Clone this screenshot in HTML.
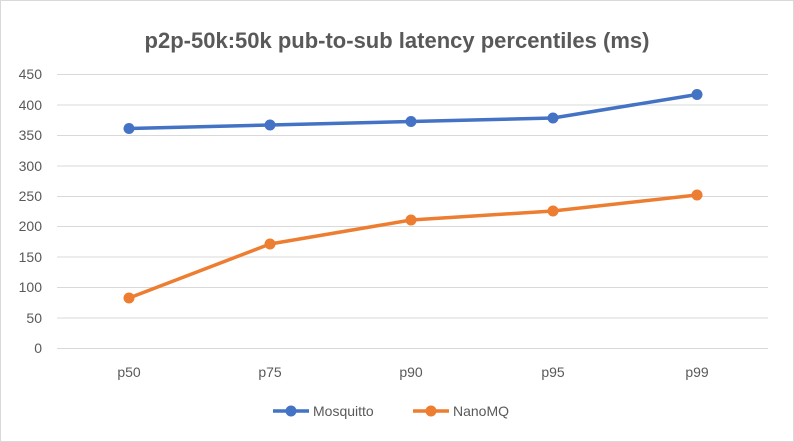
<!DOCTYPE html>
<html><head><style>
body{margin:0;background:#fff;}
.c{width:794px;height:442px;position:relative;box-sizing:border-box;border:1px solid #d9d9d9;background:#fff;}
</style></head><body>
<div class="c">
<svg width="794" height="442" style="position:absolute;left:-1px;top:-1px" font-family="'Liberation Sans',sans-serif">
<text x="397" y="48" text-anchor="middle" font-size="22" font-weight="bold" fill="#595959">p2p-50k:50k pub-to-sub latency percentiles (ms)</text>
<g stroke="#d9d9d9" stroke-width="1">
<line x1="57" x2="768" y1="74.5" y2="74.5"/>
<line x1="57" x2="768" y1="105" y2="105"/>
<line x1="57" x2="768" y1="135.5" y2="135.5"/>
<line x1="57" x2="768" y1="166" y2="166"/>
<line x1="57" x2="768" y1="196.5" y2="196.5"/>
<line x1="57" x2="768" y1="226.5" y2="226.5"/>
<line x1="57" x2="768" y1="257" y2="257"/>
<line x1="57" x2="768" y1="287.5" y2="287.5"/>
<line x1="57" x2="768" y1="318" y2="318"/>
<line x1="57" x2="768" y1="348.5" y2="348.5"/>
</g>
<g font-size="14" fill="#595959" text-anchor="end">
<text x="42" y="79">450</text><text x="42" y="110">400</text><text x="42" y="140">350</text>
<text x="42" y="171">300</text><text x="42" y="201">250</text><text x="42" y="231">200</text>
<text x="42" y="262">150</text><text x="42" y="292">100</text><text x="42" y="323">50</text>
<text x="42" y="353">0</text>
</g>
<g font-size="14" fill="#595959" text-anchor="middle">
<text x="129" y="377">p50</text><text x="270" y="377">p75</text><text x="411" y="377">p90</text>
<text x="553" y="377">p95</text><text x="697" y="377">p99</text>
</g>
<polyline points="129,128.5 270,125 411,121.5 553,118 697,94.5" fill="none" stroke="#4472c4" stroke-width="3.5" stroke-linejoin="round"/>
<g fill="#4472c4"><circle cx="129" cy="128.5" r="5.5"/><circle cx="270" cy="125" r="5.5"/><circle cx="411" cy="121.5" r="5.5"/><circle cx="553" cy="118" r="5.5"/><circle cx="697" cy="94.5" r="5.5"/></g>
<polyline points="129,298 270,244 411,220 553,211 697,195" fill="none" stroke="#ed7d31" stroke-width="3.5" stroke-linejoin="round"/>
<g fill="#ed7d31"><circle cx="129" cy="298" r="5.5"/><circle cx="270" cy="244" r="5.5"/><circle cx="411" cy="220" r="5.5"/><circle cx="553" cy="211" r="5.5"/><circle cx="697" cy="195" r="5.5"/></g>
<line x1="273" x2="309" y1="411" y2="411" stroke="#4472c4" stroke-width="3.5"/>
<circle cx="291" cy="411" r="5.5" fill="#4472c4"/>
<text x="313" y="416" font-size="14" fill="#595959">Mosquitto</text>
<line x1="413" x2="449" y1="411" y2="411" stroke="#ed7d31" stroke-width="3.5"/>
<circle cx="431" cy="411" r="5.5" fill="#ed7d31"/>
<text x="453" y="416" font-size="14" fill="#595959">NanoMQ</text>
</svg>
</div>
</body></html>
